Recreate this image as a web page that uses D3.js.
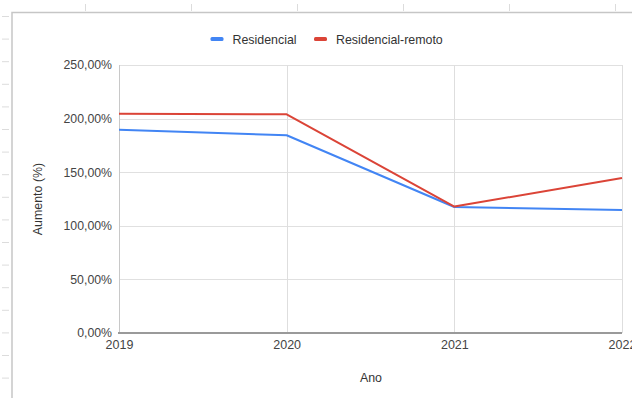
<!DOCTYPE html>
<html>
<head>
<meta charset="utf-8">
<script src="https://cdn.jsdelivr.net/npm/d3@7.9.0/dist/d3.min.js"></script>
<style>
  html, body { margin: 0; padding: 0; background: #fff; }
  svg { display: block; font-family: Arial, "Liberation Sans", sans-serif; }
</style>
</head>
<body>
<div id="chart"></div>
<script>
// chart data
const years = [2019, 2020, 2021, 2022];
const residencial = [189.5, 184.5, 117.5, 114.8];
const residencialRemoto = [204.5, 204, 118, 144.5];
const yTicks = [0, 50, 100, 150, 200, 250];
const seriesNames = ['Residencial', 'Residencial-remoto'];
const seriesColors = ['#4285f4', '#db4437'];

const width = 632;
const height = 398;

const svg = d3.select('#chart')
  .append('svg')
  .attr('width', width)
  .attr('height', height);

// spreadsheet cells peeking out behind the chart
const bg = svg.append('g').attr('stroke', '#dcdcdc').attr('stroke-width', 1);
bg.selectAll('line.rowtick')
  .data(d3.range(16.5, height, 22.6))
  .join('line')
  .attr('x1', 2).attr('x2', 9)
  .attr('y1', (d) => d).attr('y2', (d) => d);
bg.selectAll('line.coltick')
  .data(d3.range(85.5, width, 106))
  .join('line')
  .attr('x1', (d) => d).attr('x2', (d) => d)
  .attr('y1', 4).attr('y2', 11);

// chart frame
svg.append('path')
  .attr('d', `M12,${height + 5} V12.5 H${width + 5}`)
  .attr('fill', 'none')
  .attr('stroke', '#c6c6c6')
  .attr('stroke-width', 1.5);

const margin = { top: 65, right: 10, bottom: 65, left: 119 };
const usableArea = {
  left: margin.left,
  right: 622,
  top: margin.top,
  bottom: height - margin.bottom,
};

const xScale = d3.scaleLinear()
  .domain(d3.extent(years))
  .range([usableArea.left, usableArea.right]);

const yScale = d3.scaleLinear()
  .domain([0, 250])
  .range([usableArea.bottom, usableArea.top]);

// gridlines
const grid = svg.append('g').attr('class', 'gridlines');
grid.selectAll('line.h')
  .data(yTicks.filter((d) => d > 0))
  .join('line')
  .attr('x1', usableArea.left).attr('x2', usableArea.right)
  .attr('y1', (d) => Math.round(yScale(d)) + 0.5)
  .attr('y2', (d) => Math.round(yScale(d)) + 0.5)
  .attr('stroke', '#e0e0e0');
grid.selectAll('line.v')
  .data(years)
  .join('line')
  .attr('x1', (d) => Math.round(xScale(d)) + 0.5)
  .attr('x2', (d) => Math.round(xScale(d)) + 0.5)
  .attr('y1', usableArea.top).attr('y2', usableArea.bottom)
  .attr('stroke', (d, i) => (i === 0 ? '#c8c8c8' : '#dedede'));

// y axis labels
const fmt = (d) => d3.format('.2f')(d).replace('.', ',') + '%';
const yAxis = d3.axisLeft(yScale).tickValues(yTicks).tickSize(0).tickPadding(7).tickFormat(fmt);
svg.append('g')
  .attr('transform', `translate(${usableArea.left}, 0)`)
  .call(yAxis)
  .call((g) => g.select('.domain').remove())
  .call((g) => g.selectAll('text')
    .attr('fill', '#444')
    .style('font-size', '12.3px')
    .style('font-family', 'Arial, "Liberation Sans", sans-serif'));

// x axis
const xAxis = d3.axisBottom(xScale).tickValues(years).tickSize(0).tickPadding(7).tickFormat(d3.format('d'));
svg.append('g')
  .attr('transform', `translate(0, ${usableArea.bottom})`)
  .call(xAxis)
  .call((g) => g.select('.domain').remove())
  .call((g) => g.selectAll('text')
    .attr('fill', '#444')
    .style('font-size', '12.5px')
    .style('font-family', 'Arial, "Liberation Sans", sans-serif'));

// baseline
svg.append('line')
  .attr('x1', usableArea.left - 1).attr('x2', usableArea.right)
  .attr('y1', usableArea.bottom).attr('y2', usableArea.bottom)
  .attr('stroke', '#9a9a9a')
  .attr('stroke-width', 2);

// lines
const line = d3.line()
  .x((d, i) => xScale(years[i]))
  .y((d) => yScale(d));

[residencial, residencialRemoto].forEach((series, i) => {
  svg.append('path')
    .datum(series)
    .attr('fill', 'none')
    .attr('stroke', seriesColors[i])
    .attr('stroke-width', 2)
    .attr('stroke-linejoin', 'round')
    .attr('d', line);
});

// axis titles
svg.append('text')
  .attr('x', 371).attr('y', 382)
  .attr('text-anchor', 'middle')
  .attr('fill', '#333')
  .style('font-size', '12.4px')
  .text('Ano');

svg.append('text')
  .attr('transform', `translate(42, ${(usableArea.top + usableArea.bottom) / 2}) rotate(-90)`)
  .attr('text-anchor', 'middle')
  .attr('fill', '#333')
  .style('font-size', '12.4px')
  .text('Aumento (%)');

// legend
const legendItems = [
  { name: seriesNames[0], color: seriesColors[0], x: 210.5 },
  { name: seriesNames[1], color: seriesColors[1], x: 314 },
];
const legend = svg.append('g').attr('class', 'legend');
legendItems.forEach((d) => {
  legend.append('rect')
    .attr('x', d.x).attr('y', 37)
    .attr('width', 13).attr('height', 4)
    .attr('rx', 1.5)
    .attr('fill', d.color);
  legend.append('text')
    .attr('x', d.x + 22).attr('y', 43.5)
    .attr('fill', '#333')
    .style('font-size', '12.4px')
    .text(d.name);
});
</script>
</body>
</html>
